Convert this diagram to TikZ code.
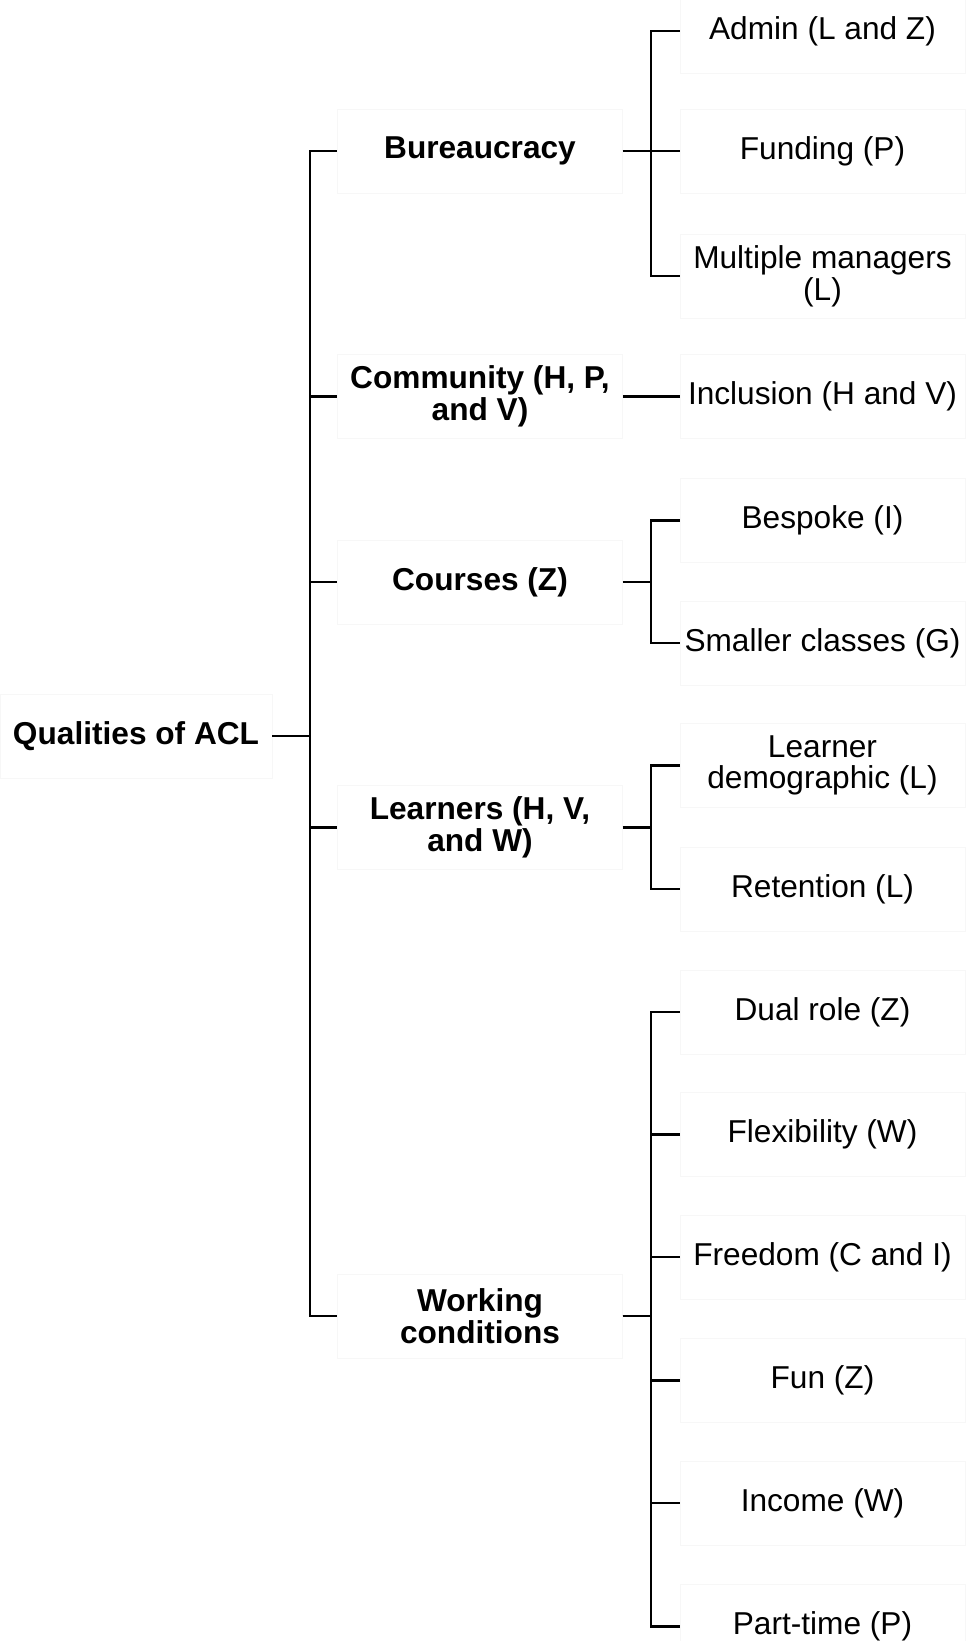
\documentclass[tikz,border=0pt]{standalone}
\usepackage{fontspec}
\setmainfont{Liberation Sans}
\usepackage{tikz}

\begin{document}
\begin{tikzpicture}[
  box/.style={draw=black!3, line width=0.4pt, align=center, inner sep=0pt,
    minimum height=1.68cm, font=\fontsize{18pt}{18pt}\selectfont},
  rootbox/.style={box, minimum width=5.44cm, font=\fontsize{18pt}{18pt}\selectfont\bfseries},
  topic/.style={box, minimum width=5.7cm, font=\fontsize{18pt}{18pt}\selectfont\bfseries},
  leaf/.style={box, minimum width=5.7cm},
  link/.style={line width=1.2pt}
]

\useasboundingbox (0,0) rectangle (19.42,-32.82);

% root
\node[rootbox] (root) at (2.72,-14.72) {Qualities of ACL};

% first level
\node[topic] (bur) at (9.6,-3.02)  {Bureaucracy};
\node[topic] (com) at (9.6,-7.93)  {Community (H, P,\\ and V)};
\node[topic] (cou) at (9.6,-11.64) {Courses (Z)};
\node[topic] (lea) at (9.6,-16.55) {Learners (H, V,\\ and W)};
\node[topic] (wor) at (9.6,-26.32) {Working\\ conditions};

% second level
\node[leaf] (adm) at (16.45,-0.62)  {Admin (L and Z)};
\node[leaf] (fun) at (16.45,-3.02)  {Funding (P)};
\node[leaf] (mul) at (16.45,-5.52)  {Multiple managers\\ (L)};
\node[leaf] (inc) at (16.45,-7.93)  {Inclusion (H and V)};
\node[leaf] (bes) at (16.45,-10.41) {Bespoke (I)};
\node[leaf] (sma) at (16.45,-12.86) {Smaller classes (G)};
\node[leaf] (dem) at (16.45,-15.31) {Learner\\ demographic (L)};
\node[leaf] (ret) at (16.45,-17.78) {Retention (L)};
\node[leaf] (dua) at (16.45,-20.24) {Dual role (Z)};
\node[leaf] (fle) at (16.45,-22.69) {Flexibility (W)};
\node[leaf] (fre) at (16.45,-25.14) {Freedom (C and I)};
\node[leaf] (fnz) at (16.45,-27.61) {Fun (Z)};
\node[leaf] (ico) at (16.45,-30.06) {Income (W)};
\node[leaf] (par) at (16.45,-32.53) {Part-time (P)};

% trunk
\foreach \t in {bur,com,cou,lea,wor}
  \draw[link] (root.east) -- ++(0.75,0) |- (\t.west);

% branches
\foreach \l in {adm,fun,mul}
  \draw[link] (bur.east) -- ++(0.57,0) |- (\l.west);
\draw[link] (com.east) -- (inc.west);
\foreach \l in {bes,sma}
  \draw[link] (cou.east) -- ++(0.57,0) |- (\l.west);
\foreach \l in {dem,ret}
  \draw[link] (lea.east) -- ++(0.57,0) |- (\l.west);
\foreach \l in {dua,fle,fre,fnz,ico,par}
  \draw[link] (wor.east) -- ++(0.57,0) |- (\l.west);

\end{tikzpicture}
\end{document}
